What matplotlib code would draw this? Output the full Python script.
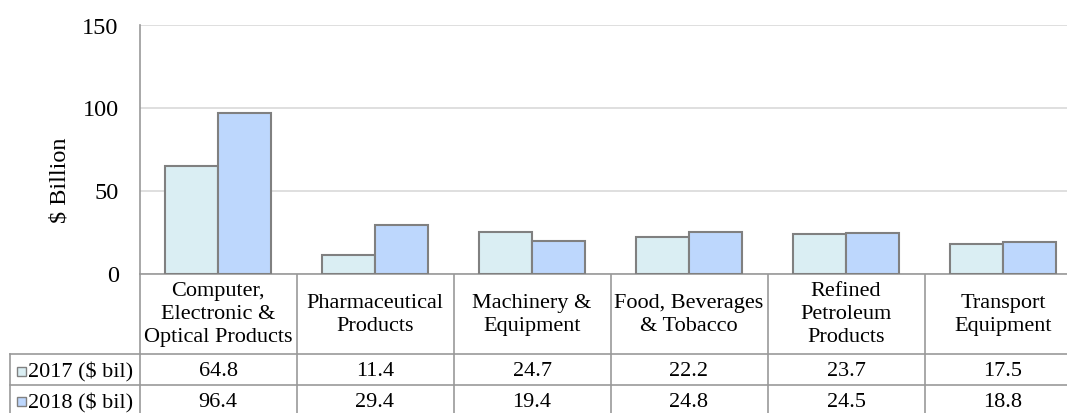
import matplotlib.pyplot as plt
import matplotlib.transforms as mtransforms
from matplotlib.patches import Rectangle
import numpy as np

plt.rcParams["font.family"] = ["Liberation Serif", "DejaVu Serif"]

categories = [
    "Computer,\nElectronic &\nOptical Products",
    "Pharmaceutical\nProducts",
    "Machinery &\nEquipment",
    "Food, Beverages\n& Tobacco",
    "Refined\nPetroleum\nProducts",
    "Transport\nEquipment",
]
series_names = [r"2017 (\$ bil)", r"2018 (\$ bil)"]
values_2017 = [64.8, 11.4, 24.7, 22.2, 23.7, 17.5]
values_2018 = [96.4, 29.4, 19.4, 24.8, 24.5, 18.8]
value_labels_2017 = ["64.8", "11.4", "24.7", "22.2", "23.7", "17.5"]
value_labels_2018 = ["96.4", "29.4", "19.4", "24.8", "24.5", "18.8"]
yticks = [0, 50, 100, 150]

colors = ["#DAEEF3", "#BDD7FD"]
edge = "#808080"
grid_c = "#D9D9D9"
line_c = "#999999"
fs = 16

W, H = 1067, 414
fig = plt.figure(figsize=(W / 100, H / 100), dpi=100)

# plot area in pixels; the last column runs past the right edge
left, right, top, bottom = 139.5, 1081.5, 25.5, 274.5
ax = fig.add_axes([left / W, 1 - bottom / H, (right - left) / W, (bottom - top) / H])

x = np.arange(len(categories))
bw = 0.34
ax.bar(x - bw / 2, values_2017, bw, color=colors[0], edgecolor=edge, linewidth=1.5, zorder=3)
ax.bar(x + bw / 2, values_2018, bw, color=colors[1], edgecolor=edge, linewidth=1.5, zorder=3)

ax.set_xlim(-0.5, len(categories) - 0.5)
ax.set_ylim(0, 150)
ax.set_yticks(yticks)
ax.set_yticklabels([str(t) for t in yticks], fontsize=17.5)
ax.tick_params(axis="y", length=0, pad=15)
ax.set_xticks([])
ax.yaxis.grid(True, color=grid_c, linewidth=1.2, zorder=0)
ax.set_axisbelow(True)
for s in ["top", "right"]:
    ax.spines[s].set_visible(False)
for s in ["left", "bottom"]:
    ax.spines[s].set_color(line_c)
    ax.spines[s].set_linewidth(1.2)

fig.text(60 / W, 1 - 180 / H, r"\$ Billion", rotation=90, ha="center", va="center", fontsize=17.5)

# data table under the plot: x in category units, y in pixels
tab = fig.add_axes([0, 0, 1, 1], zorder=-1)
tab.set_xlim(0, W)
tab.set_ylim(H, 0)
tab.axis("off")
trans = mtransforms.blended_transform_factory(ax.transData, tab.transData)

head_bot, row1_bot, row2_bot = 355, 386, 417
for b in np.arange(len(categories) + 1) - 0.5:
    tab.plot([b, b], [bottom, row2_bot], color=line_c, lw=1.2, transform=trans, clip_on=False)
for yy in [head_bot, row1_bot, row2_bot]:
    tab.plot([10, W], [yy, yy], color=line_c, lw=1.2)
tab.plot([10, 10], [head_bot, row2_bot], color=line_c, lw=1.2)

for i, name in enumerate(categories):
    tab.text(x[i], (bottom + head_bot) / 2, name, ha="center", va="center",
             multialignment="center", fontsize=fs, linespacing=1.3, transform=trans)

rows = [(value_labels_2017, colors[0]), (value_labels_2018, colors[1])]
for r, ((labels, c), name) in enumerate(zip(rows, series_names)):
    yc = (head_bot + row1_bot) / 2 + r * (row1_bot - head_bot) + 1.5
    tab.add_patch(Rectangle((17, yc - 4.5), 9, 9, facecolor=c, edgecolor=edge, lw=1))
    tab.text(28, yc, name, ha="left", va="center", fontsize=fs)
    for i, lab in enumerate(labels):
        tab.text(x[i], yc, lab, ha="center", va="center", fontsize=fs, transform=trans)

fig.savefig("out.png", dpi=100)
